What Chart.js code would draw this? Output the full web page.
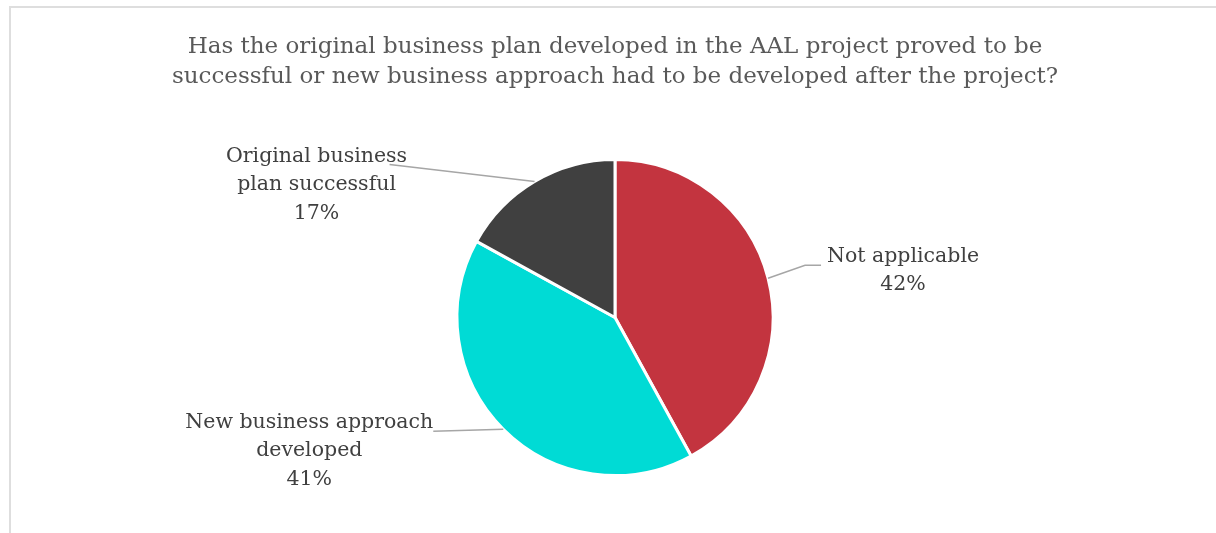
<!DOCTYPE html>
<html>
<head>
<meta charset="utf-8">
<script src="https://cdn.jsdelivr.net/npm/chart.js@4"></script>
<style>
    html, body { margin: 0; padding: 0; background: #fff; }
    body { width: 1216px; height: 533px; position: relative; overflow: hidden; }
    #frame {
        position: absolute; left: 9px; top: 6px; width: 1220px; height: 540px;
        border-left: 2px solid #dedede; border-top: 2px solid #dedede;
    }
    #wrap { position: absolute; left: 0; top: 0; width: 1216px; height: 533px; }
</style>
</head>
<body>
<div id="frame"></div>
<div id="wrap"><canvas id="pie"></canvas></div>
<script>
// survey answers, clockwise from 12 o'clock
const categories = ['Not applicable', 'New business approach developed', 'Original business plan successful'];
const shares = [42, 41, 17];
// how each category name breaks over lines in its label
const labelLines = [
    ['Not applicable'],
    ['New business approach', 'developed'],
    ['Original business', 'plan successful']
];
const sliceColors = ['#c3343f', '#00dbd5', '#404040'];
const titleLines = [
    'Has the original business plan developed in the AAL project proved to be',
    'successful or new business approach had to be developed after the project?'
];

const serif = "'DejaVu Serif', 'Liberation Serif', serif";

// leader lines and label blocks, relative to the slice's mid-angle edge point
const labelLayout = [
    { elbow: [37, -13], end: [53, -13], text: [135, -22] },
    { elbow: [-70, 2], end: [-70, 2], text: [-194, -7] },
    { elbow: [-145, -17], end: [-145, -17], text: [-218, -25] }
];

const calloutPlugin = {
    id: 'callouts',
    afterDatasetsDraw(chart) {
        const ctx = chart.ctx;
        const arcs = chart.getDatasetMeta(0).data;
        ctx.save();
        arcs.forEach((arc, i) => {
            const p = arc.getProps(['x', 'y', 'startAngle', 'endAngle', 'outerRadius'], true);
            const mid = (p.startAngle + p.endAngle) / 2;
            const ex = p.x + Math.cos(mid) * p.outerRadius;
            const ey = p.y + Math.sin(mid) * p.outerRadius;
            const lay = labelLayout[i];

            ctx.strokeStyle = '#a6a6a6';
            ctx.lineWidth = 1.5;
            ctx.beginPath();
            ctx.moveTo(ex, ey);
            ctx.lineTo(ex + lay.elbow[0], ey + lay.elbow[1]);
            ctx.lineTo(ex + lay.end[0], ey + lay.end[1]);
            ctx.stroke();

            const lines = labelLines[i].concat([shares[i] + '%']);
            ctx.fillStyle = '#404040';
            ctx.font = '20.5px ' + serif;
            ctx.textAlign = 'center';
            ctx.textBaseline = 'middle';
            lines.forEach((t, k) => {
                ctx.fillText(t, ex + lay.text[0], ey + lay.text[1] + k * 28.5);
            });
        });
        ctx.restore();
    }
};

new Chart(document.getElementById('pie'), {
    type: 'pie',
    data: {
        labels: categories,
        datasets: [{
            data: shares,
            backgroundColor: sliceColors,
            borderColor: '#ffffff',
            borderWidth: 3
        }]
    },
    options: {
        responsive: true,
        maintainAspectRatio: false,
        animation: false,
        layout: { padding: { left: 14, right: 0, top: 0, bottom: 56 } },
        plugins: {
            legend: { display: false },
            tooltip: { enabled: false },
            title: {
                display: true,
                text: titleLines,
                color: '#595959',
                font: { family: serif, size: 23, weight: 'normal', lineHeight: '30px' },
                padding: { top: 32, bottom: 66 }
            }
        }
    },
    plugins: [calloutPlugin]
});
</script>
</body>
</html>
